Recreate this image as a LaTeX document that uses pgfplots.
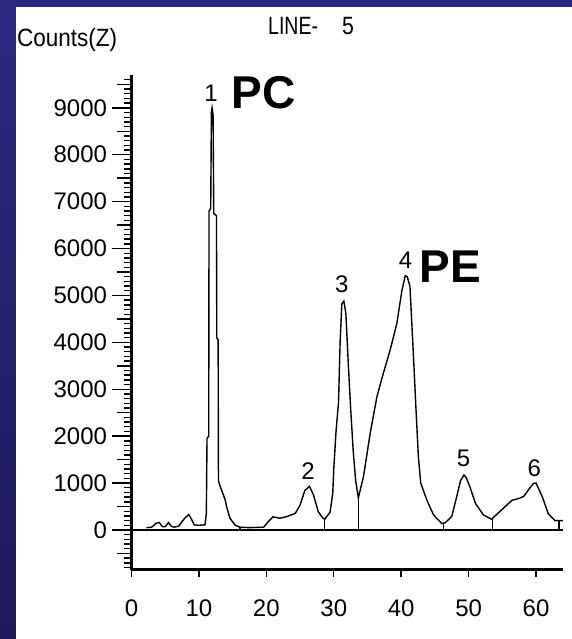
\documentclass[border=0pt]{standalone}
\usepackage{fontspec}
\setmainfont{Liberation Sans}
\usepackage{pgfplots}
\pgfplotsset{compat=1.18}

\definecolor{bgtop}{RGB}{44,42,128}
\definecolor{bgbot}{RGB}{30,25,88}

\newcommand{\lbl}{\fontsize{24}{24}\selectfont}
\newcommand{\bigname}{\fontsize{46}{46}\selectfont\bfseries}

\begin{document}
\begin{tikzpicture}[x=1pt,y=1pt]
\path[use as bounding box] (0,0) rectangle (572,639);
\shade[top color=bgtop, bottom color=bgbot] (0,0) rectangle (572,639);
\fill[white] (16,0) rectangle (572,632);

\begin{axis}[
  at={(131.5pt,69pt)}, anchor=south west,
  scale only axis, width=431.5pt, height=495pt,
  xmin=0, xmax=64, ymin=-853, ymax=9700,
  axis lines=left,
  axis line style={-, line width=3pt},
  clip=false,
  tick align=outside,
  tick style={black, line width=1.4pt},
  major tick length=19pt,
  minor tick length=8pt,
  ytick={0,1000,...,9000},
  minor ytick={-800,-700,...,9600},
  extra y ticks={-500,500,1500,2500,3500,4500,5500,6500,7500,8500,9500},
  extra y tick labels={},
  extra y tick style={major tick length=14pt},
  xtick=\empty,
  extra x ticks={0,10,...,60},
  extra x tick style={major tick length=7pt},
  tick label style={font=\lbl},
  yticklabel style={xshift=-2pt},
  xticklabel style={yshift=-19pt},
  /pgf/number format/assume math mode=true,
  /pgf/number format/1000 sep={},
]
% zero line
\addplot[black, line width=1.8pt] coordinates {(0,0) (64,0)};

% chromatogram trace
\addplot[black, line width=1.4pt, sharp plot] coordinates {
(2.2,50) (3.0,60) (3.6,140) (4.1,160) (4.6,70) (5.0,70) (5.5,160) (5.9,80)
(6.3,60) (7.0,80) (7.6,200) (8.1,280) (8.5,330) (8.9,230) (9.3,110) (10.0,100)
(10.9,110) (11.1,350) (11.2,1950) (11.45,2000) (11.5,6800) (11.75,6850)
(11.85,8900) (11.95,9000) (12.1,8850) (12.2,6750) (12.6,6700) (12.65,4100)
(12.85,4050) (12.9,1050) (13.1,950) (13.5,800) (13.9,640) (14.1,500)
(14.6,250) (15.4,100) (16.1,60) (17.5,50) (19.6,60) (20.3,180) (21.0,280)
(22.0,250) (23.0,285) (24.3,355) (25.0,530) (25.7,840) (26.4,930) (27.0,745)
(27.7,390) (28.4,250) (28.7,235) (29.45,380) (29.85,780) (30.0,1300)
(30.35,2130) (30.7,2700) (30.95,4040) (31.2,4820) (31.5,4880) (31.8,4610)
(32.15,3550) (32.5,2600) (32.9,1650) (33.25,1050) (33.65,680) (34.0,900)
(34.4,1130) (35.4,2060) (36.4,2840) (37.35,3340) (38.35,3830) (39.35,4400)
(40.1,5100) (40.6,5420) (40.9,5400) (41.3,5190) (41.8,3770) (42.2,2560)
(42.55,1560) (42.9,1000) (43.8,640) (44.8,320) (46.0,140) (46.5,150)
(47.5,290) (48.25,720) (48.8,1050) (49.3,1170) (49.6,1130) (50.2,920)
(51.0,570) (52.2,320) (53.4,230) (54.9,430) (56.4,630) (57.6,680) (58.2,720)
(58.9,860) (59.6,990) (60.0,1000) (60.9,720) (61.8,350) (62.8,200) (63.6,200)
(64,200)};

% peak boundary markers
\addplot[black, line width=1.2pt] coordinates {(16.1,0) (16.1,60)};
\addplot[black, line width=1.2pt] coordinates {(28.65,0) (28.65,235)};
\addplot[black, line width=1.2pt] coordinates {(33.7,0) (33.7,700)};
\addplot[black, line width=1.2pt] coordinates {(46.3,0) (46.3,145)};
\addplot[black, line width=1.2pt] coordinates {(53.5,0) (53.5,235)};
\addplot[black, line width=1.2pt] coordinates {(63.4,0) (63.4,200)};

% peak numbers
\node[font=\lbl] at (axis cs:11.8,9320) {1};
\node[font=\lbl] at (axis cs:26.2,1255) {2};
\node[font=\lbl] at (axis cs:31.2,5235) {3};
\node[font=\lbl] at (axis cs:40.65,5745) {4};
\node[font=\lbl] at (axis cs:49.26,1520) {5};
\node[font=\lbl] at (axis cs:59.76,1310) {6};

\node[font=\bigname, anchor=base west, inner sep=0pt] at (axis cs:14.85,8980) {PC};
\node[font=\bigname, anchor=base west, inner sep=0pt] at (axis cs:42.73,5277) {PE};
\end{axis}

\node[anchor=base west, inner sep=0pt, font=\fontsize{25}{25}\selectfont]
  at (17,592) {\scalebox{0.9}[1]{Counts(Z)}};
\node[anchor=base west, inner sep=0pt, font=\fontsize{25}{25}\selectfont]
  at (268,604) {\scalebox{0.78}[1]{LINE-}};
\node[anchor=base west, inner sep=0pt, font=\fontsize{25}{25}\selectfont]
  at (342,604) {\scalebox{0.85}[1]{5}};
\end{tikzpicture}
\end{document}
